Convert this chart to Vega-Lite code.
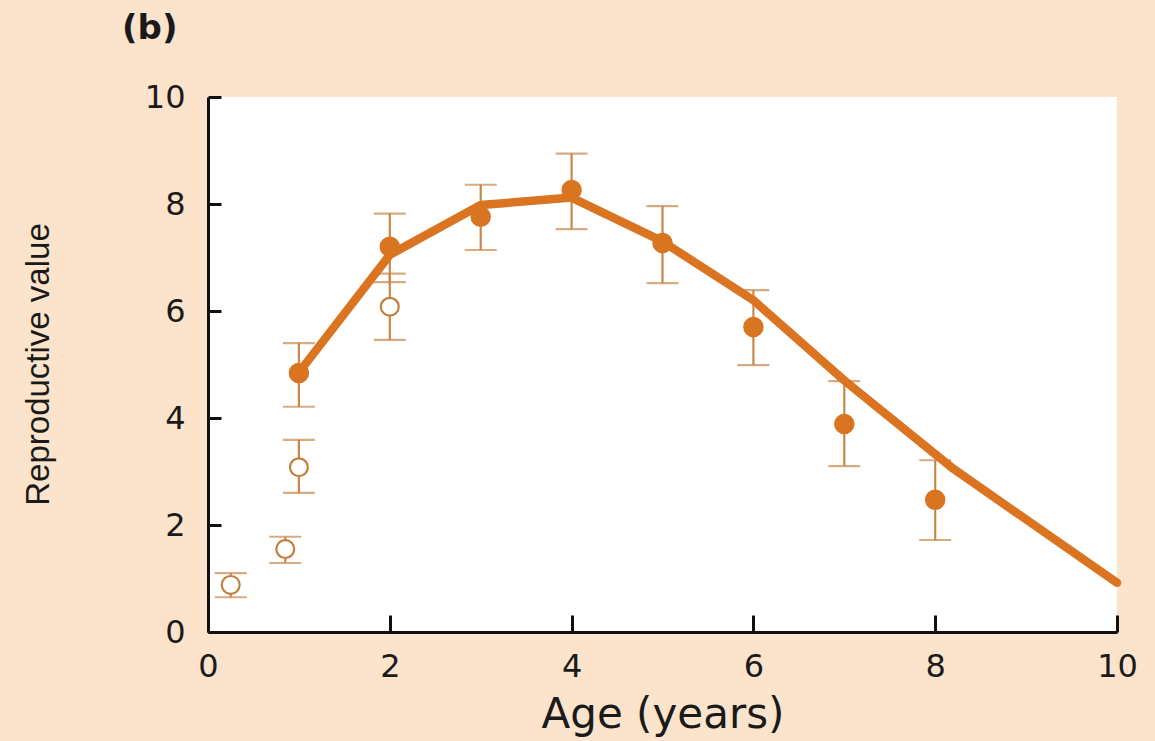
{
  "$schema": "https://vega.github.io/schema/vega-lite/v6.json",
  "autosize": {"type": "none"},
  "width": 909,
  "height": 535,
  "padding": {"left": 208, "top": 97, "right": 38, "bottom": 109},
  "background": "#fbe3cc",
  "title": {
    "text": "(b)",
    "anchor": "start",
    "frame": "group",
    "dx": -86,
    "offset": 35,
    "font": "DejaVu Sans",
    "fontSize": 34,
    "fontWeight": "bold",
    "color": "#1a1a1a"
  },
  "config": {
    "view": {"fill": "white", "stroke": null},
    "axis": {
      "domainColor": "#111111",
      "domainWidth": 3,
      "tickColor": "#111111",
      "tickWidth": 3,
      "grid": false,
      "labelFlush": false,
      "labelFont": "DejaVu Sans",
      "labelFontSize": 32,
      "labelColor": "#1a1a1a",
      "titleFont": "DejaVu Sans",
      "titleColor": "#1a1a1a",
      "titleFontWeight": "normal"
    }
  },
  "datasets": {
    "curve": [
      {"age": 1, "value": 4.85},
      {"age": 2, "value": 7.05},
      {"age": 3, "value": 7.98},
      {"age": 4, "value": 8.12},
      {"age": 5, "value": 7.3},
      {"age": 6, "value": 6.2},
      {"age": 7, "value": 4.7},
      {"age": 8.2, "value": 3.05},
      {"age": 10, "value": 0.92}
    ],
    "obs": [
      {"age": 1, "value": 4.84, "lo": 4.21, "hi": 5.4, "kind": "filled"},
      {"age": 2, "value": 7.2, "lo": 6.54, "hi": 7.82, "kind": "filled"},
      {"age": 3, "value": 7.76, "lo": 7.14, "hi": 8.36, "kind": "filled"},
      {"age": 4, "value": 8.26, "lo": 7.53, "hi": 8.94, "kind": "filled"},
      {"age": 5, "value": 7.27, "lo": 6.52, "hi": 7.96, "kind": "filled"},
      {"age": 6, "value": 5.7, "lo": 4.99, "hi": 6.39, "kind": "filled"},
      {"age": 7, "value": 3.89, "lo": 3.1, "hi": 4.69, "kind": "filled"},
      {"age": 8, "value": 2.47, "lo": 1.72, "hi": 3.21, "kind": "filled"},
      {"age": 0.25, "value": 0.88, "lo": 0.65, "hi": 1.1, "kind": "open"},
      {"age": 0.85, "value": 1.55, "lo": 1.29, "hi": 1.78, "kind": "open"},
      {"age": 1, "value": 3.08, "lo": 2.6, "hi": 3.59, "kind": "open"},
      {"age": 2, "value": 6.08, "lo": 5.46, "hi": 6.7, "kind": "open"}
    ]
  },
  "encoding": {
    "x": {
      "field": "age",
      "type": "quantitative",
      "scale": {"domain": [0, 10], "nice": false},
      "axis": {
        "values": [0, 2, 4, 6, 8, 10],
        "tickSize": -17,
        "labelPadding": 36,
        "title": "Age (years)",
        "titleFontSize": 42,
        "titlePadding": 12
      }
    },
    "y": {
      "field": "value",
      "type": "quantitative",
      "scale": {"domain": [0, 10], "nice": false},
      "axis": {
        "values": [0, 2, 4, 6, 8, 10],
        "tickSize": -13,
        "labelPadding": 36,
        "title": "Reproductive value",
        "titleFont": "Liberation Sans",
        "titleFontSize": 33,
        "titleX": -170,
        "titleY": 267,
        "titleAlign": "center",
        "titleBaseline": "middle",
        "titleAngle": -90
      }
    }
  },
  "layer": [
    {
      "data": {"name": "obs"},
      "mark": {"type": "rule", "color": "#c8884a", "strokeWidth": 2.2},
      "encoding": {"y": {"field": "lo", "type": "quantitative"}, "y2": {"field": "hi"}}
    },
    {
      "data": {"name": "obs"},
      "mark": {"type": "tick", "orient": "horizontal", "color": "#c8884a", "size": 32, "thickness": 2.2},
      "encoding": {"y": {"field": "lo", "type": "quantitative"}}
    },
    {
      "data": {"name": "obs"},
      "mark": {"type": "tick", "orient": "horizontal", "color": "#c8884a", "size": 32, "thickness": 2.2},
      "encoding": {"y": {"field": "hi", "type": "quantitative"}}
    },
    {
      "data": {"name": "curve"},
      "mark": {"type": "line", "color": "#da7420", "strokeWidth": 8.5, "strokeJoin": "round", "strokeCap": "round"},
      "encoding": {}
    },
    {
      "data": {"name": "obs"},
      "transform": [{"filter": "datum.kind === 'filled'"}],
      "mark": {"type": "point", "shape": "circle", "filled": true, "color": "#d97520", "size": 420, "opacity": 1}
    },
    {
      "data": {"name": "obs"},
      "transform": [{"filter": "datum.kind === 'open'"}],
      "mark": {"type": "point", "shape": "circle", "filled": false, "fill": "white", "stroke": "#c0803e", "strokeWidth": 2.2, "size": 320, "opacity": 1}
    }
  ]
}
